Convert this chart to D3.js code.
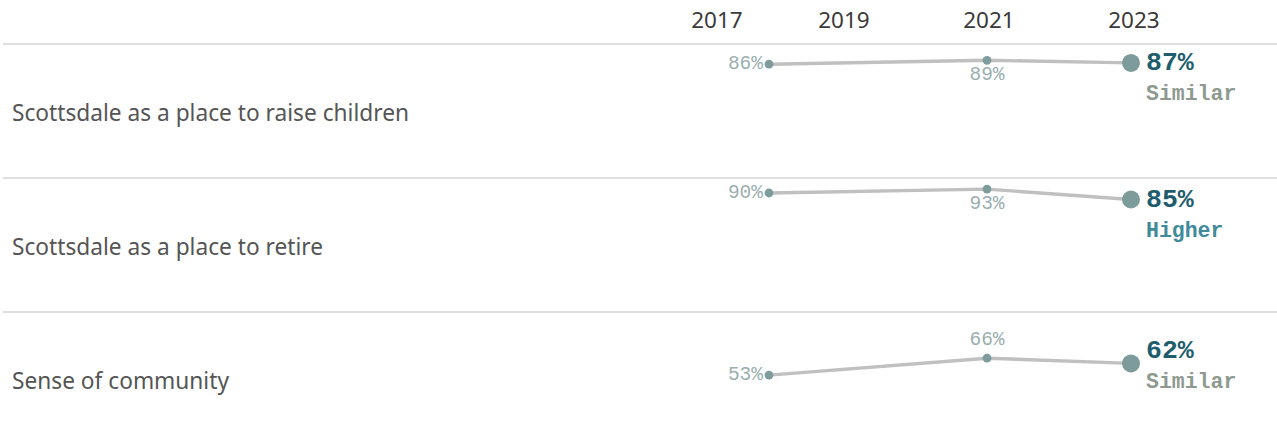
<!DOCTYPE html>
<html>
<head>
<meta charset="utf-8">
<script src="https://cdn.jsdelivr.net/npm/d3@7"></script>
<style>
  html, body { margin: 0; padding: 0; background: #ffffff; }
  svg { display: block; }
</style>
</head>
<body>
<svg id="chart" width="1277" height="442"></svg>
<script>
// Survey measures, one row each
const categories = [
  "Scottsdale as a place to raise children",
  "Scottsdale as a place to retire",
  "Sense of community"
];
const surveyYears = [2017, 2021, 2023];
const headerYears = [2017, 2019, 2021, 2023];
const values2017 = [86, 90, 53];
const values2021 = [89, 93, 66];
const values2023 = [87, 85, 62];
const comparison = ["Similar", "Higher", "Similar"];

const W = 1277, H = 442;
const headerH = 44, rowH = 134;

const svg = d3.select("#chart");

const sans = "'Noto Sans', 'Open Sans', sans-serif";
const mono = "'Liberation Mono', 'Courier New', monospace";

// Year columns: the header and the plotted points use their own layouts
const xHead = d3.scaleLinear().domain(headerYears).range([717, 844, 989, 1134]);
const xDot = d3.scaleLinear().domain(surveyYears).range([769, 987, 1131]);
// Percent scale shared by every row
const y = d3.scaleLinear().domain([0, 100]).range([rowH - 2, 2]);
const rowTop = d3.scaleLinear().domain([0, 1]).range([headerH, headerH + rowH]);

const compColor = { Similar: "#8e9a90", Higher: "#3f8b99", Lower: "#c0604a" };

// Header years
svg.append("g").selectAll("text")
  .data(headerYears)
  .join("text")
  .attr("x", d => xHead(d))
  .attr("y", 19)
  .attr("text-anchor", "middle")
  .attr("dominant-baseline", "central")
  .attr("font-family", sans)
  .attr("font-size", 22.5)
  .attr("fill", "#3a3a3a")
  .text(d => d);

const rows = categories.map((c, i) => ({
  name: c,
  comp: comparison[i],
  pts: [
    { year: surveyYears[0], v: values2017[i] },
    { year: surveyYears[1], v: values2021[i] },
    { year: surveyYears[2], v: values2023[i] }
  ]
}));

const row = svg.append("g").selectAll("g.row")
  .data(rows)
  .join("g")
  .attr("class", "row")
  .attr("transform", (d, i) => `translate(0,${rowTop(i)})`);

// Row separators
row.append("line")
  .attr("x1", 3).attr("x2", W)
  .attr("y1", 0).attr("y2", 0)
  .attr("stroke", "#dedede")
  .attr("stroke-width", 1.8);

// Row labels
row.append("text")
  .attr("x", 12)
  .attr("y", rowH / 2 + 1)
  .attr("dominant-baseline", "central")
  .attr("font-family", sans)
  .attr("font-size", 22.7)
  .attr("fill", "#555555")
  .text(d => d.name);

const line = d3.line().x(p => xDot(p.year)).y(p => y(p.v));

row.append("path")
  .attr("d", d => line(d.pts))
  .attr("fill", "none")
  .attr("stroke", "#c0c0c0")
  .attr("stroke-width", 3.4);

// Earlier survey points
row.selectAll("circle.small")
  .data(d => d.pts.slice(0, 2))
  .join("circle")
  .attr("class", "small")
  .attr("cx", p => xDot(p.year))
  .attr("cy", p => y(p.v))
  .attr("r", 4.4)
  .attr("fill", "#7e9c9c");

// Latest survey point
row.append("circle")
  .attr("cx", d => xDot(d.pts[2].year))
  .attr("cy", d => y(d.pts[2].v))
  .attr("r", 9)
  .attr("fill", "#7e9b9c");

const fmt = v => v + "%";

// First year label, left of the point
row.append("text")
  .attr("x", d => xDot(d.pts[0].year) - 6)
  .attr("y", d => y(d.pts[0].v))
  .attr("text-anchor", "end")
  .attr("dominant-baseline", "central")
  .attr("font-family", mono)
  .attr("font-size", 19.5)
  .attr("fill", "#9ab0b0")
  .text(d => fmt(d.pts[0].v));

// Middle year label: above the point when there is room, otherwise below
row.append("text")
  .attr("x", d => xDot(d.pts[1].year))
  .attr("y", d => {
    const py = y(d.pts[1].v);
    return py < 30 ? py + 15 : py - 18;
  })
  .attr("text-anchor", "middle")
  .attr("dominant-baseline", "central")
  .attr("font-family", mono)
  .attr("font-size", 19.5)
  .attr("fill", "#9ab0b0")
  .text(d => fmt(d.pts[1].v));

// Latest value and comparison to benchmark
const blockTop = d => {
  const py = y(d.pts[2].v);
  return py < 30 ? py + 0.5 : py - 12.5;
};
row.append("text")
  .attr("x", d => xDot(d.pts[2].year) + 15)
  .attr("y", d => blockTop(d))
  .attr("dominant-baseline", "central")
  .attr("font-family", mono)
  .attr("font-weight", "bold")
  .attr("font-size", 26.5)
  .attr("fill", "#1d5d6c")
  .text(d => fmt(d.pts[2].v));

row.append("text")
  .attr("x", d => xDot(d.pts[2].year) + 15)
  .attr("y", d => blockTop(d) + 31)
  .attr("dominant-baseline", "central")
  .attr("font-family", mono)
  .attr("font-weight", "bold")
  .attr("font-size", 21.5)
  .attr("fill", d => compColor[d.comp])
  .text(d => d.comp);
</script>
</body>
</html>
